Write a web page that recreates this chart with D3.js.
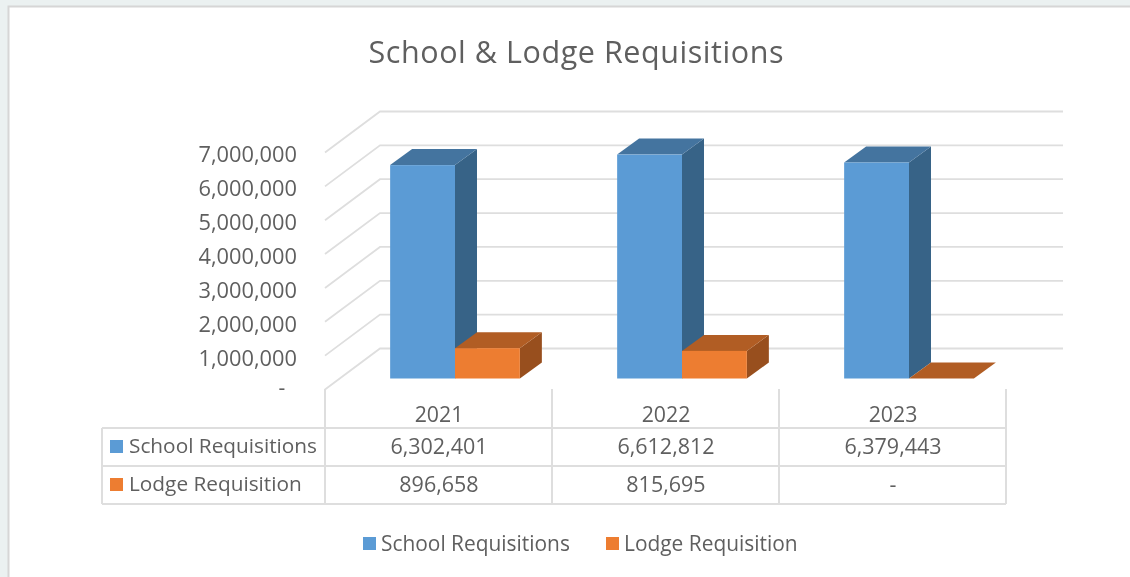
<!DOCTYPE html>
<html><head><meta charset="utf-8">
<script src="https://cdn.jsdelivr.net/npm/d3@7/dist/d3.min.js"></script>
<style>html,body{margin:0;padding:0;background:#fff;overflow:hidden}svg{display:block;filter:blur(0.45px)}text{font-family:"Open Sans",sans-serif;fill:#5f5f5f}</style>
</head><body><svg id="c" width="1130" height="577"></svg>
<script>
const years = ["2021","2022","2023"];
const seriesNames = ["School Requisitions","Lodge Requisition"];
const schoolValues = [6302401,6612812,6379443];
const lodgeValues = [896658,815695,0];
const tickValues = [0,1000000,2000000,3000000,4000000,5000000,6000000,7000000];
const frontColors = ["#5b9bd5","#ed7d31"];
const topColors = ["#44749f","#b15d24"];
const sideColors = ["#376387","#984f1e"];
const gridColor = "#dedede";

const svg = d3.select("#c");
// frame
svg.append("rect").attr("width",1130).attr("height",577).attr("fill","#ebf1f1");
svg.append("rect").attr("x",8.5).attr("y",6.5).attr("width",1130).attr("height",580).attr("fill","#fff").attr("stroke","#d6d6d6").attr("stroke-width",2);

svg.append("text").attr("x",576).attr("y",62.5).attr("text-anchor","middle").attr("font-size",30.5).attr("textLength",415).text("School & Lodge Requisitions");

const x = d3.scaleBand().domain(years).range([325,1006]);
const y = d3.scaleLinear().domain([0,7000000]).range([389.5,152.5]);
const depthX = 55, depthY = -41;          // full floor depth
const barOffX = 16.5, barOffY = -11;      // where bars stand on the floor
const barDepthX = 22, barDepthY = -16;    // bar depth
const inner = d3.scaleBand().domain(seriesNames).range([0,x.bandwidth()]).paddingInner(0).paddingOuter(0.75);

// gridlines
const g = svg.append("g").attr("fill","none").attr("stroke",gridColor).attr("stroke-width",1.8);
tickValues.forEach(v=>{
  g.append("path").attr("d",d3.line()([[325,y(v)],[325+depthX,y(v)+depthY],[1063,y(v)+depthY]]));
});

// y axis
const axis = svg.append("g").attr("transform","translate(297,2)")
  .call(d3.axisLeft(y).tickValues(tickValues.slice(1)).tickSize(0).tickPadding(0).tickFormat(d3.format(",")));
axis.select(".domain").remove();
axis.selectAll("text").attr("font-size",21.8).attr("dy","0.34em").style("fill","#5f5f5f");
svg.append("text").attr("x",282).attr("y",y(0)+5).attr("text-anchor","middle").attr("font-size",21).text("-");

// bars
const seriesValues = [schoolValues,lodgeValues];
years.forEach((yr,i)=>{
  seriesNames.forEach((s,j)=>{
    const v = seriesValues[j][i];
    const x0 = x(yr)+inner(s)+barOffX, x1 = x0+inner.bandwidth();
    const yB = y(0)+barOffY, yT = y(v)+barOffY;
    const b = svg.append("g");
    const poly = pts => pts.map(p=>p.join(",")).join(" ");
    if(v>0) b.append("polygon").attr("points",poly([[x1,yT],[x1+barDepthX,yT+barDepthY],[x1+barDepthX,yB+barDepthY],[x1,yB]])).attr("fill",sideColors[j]);
    b.append("polygon").attr("points",poly([[x0,yT],[x0+barDepthX,yT+barDepthY],[x1+barDepthX,yT+barDepthY],[x1,yT]])).attr("fill",topColors[j]);
    if(v>0) b.append("rect").attr("x",x0).attr("y",yT).attr("width",x1-x0).attr("height",yB-yT).attr("fill",frontColors[j]);
  });
});

// data table
const rowY = [428,466,504], tableLeft = 102;
const t = svg.append("g").attr("fill","none").attr("stroke",gridColor).attr("stroke-width",2);
rowY.forEach(r=>t.append("line").attr("x1",tableLeft).attr("x2",x.range()[1]).attr("y1",r).attr("y2",r));
t.append("line").attr("x1",tableLeft).attr("x2",tableLeft).attr("y1",428).attr("y2",504);
years.concat(["end"]).forEach((yr,i)=>{
  const px = i<3 ? x(yr) : x.range()[1];
  t.append("line").attr("x1",px).attr("x2",px).attr("y1",389).attr("y2",504);
});
years.forEach(yr=>{
  svg.append("text").attr("x",x(yr)+x.bandwidth()/2+0.5).attr("y",421.5).attr("text-anchor","middle").attr("font-size",21.3).text(yr);
});
const fmt = v => v>0 ? d3.format(",")(v) : "-";
seriesNames.forEach((s,j)=>{
  const cy = (rowY[j]+rowY[j+1])/2;
  svg.append("rect").attr("x",110).attr("y",cy-7).attr("width",13).attr("height",13).attr("fill",frontColors[j]);
  svg.append("text").attr("x",129).attr("y",cy+6).attr("font-size",20.8).text(s);
  years.forEach((yr,i)=>{
    svg.append("text").attr("x",x(yr)+x.bandwidth()/2+0.5).attr("y",cy+6.5).attr("text-anchor","middle").attr("font-size",21.5).text(fmt(seriesValues[j][i]));
  });
});

// legend
const legendX = [363,606];
seriesNames.forEach((s,j)=>{
  svg.append("rect").attr("x",legendX[j]).attr("y",537).attr("width",13).attr("height",13).attr("fill",frontColors[j]);
  svg.append("text").attr("x",legendX[j]+18).attr("y",551).attr("font-size",20.9).text(s);
});
</script></body></html>
